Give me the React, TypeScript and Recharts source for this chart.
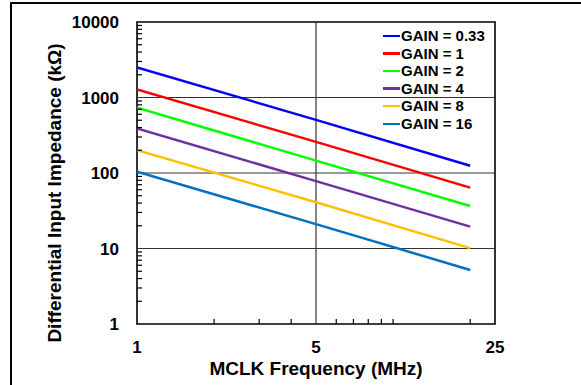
import React from 'react';
import { LineChart, Line, XAxis, YAxis, ReferenceLine, ReferenceArea, Legend, Label } from 'recharts';

// ---- data ----
const frequencies = [1, 5, 20];
const gain033 = [2500, 505, 125];
const gain1 = [1280, 258, 64];
const gain2 = [730, 146, 36.5];
const gain4 = [390, 78, 19.5];
const gain8 = [200, 41, 10.1];
const gain16 = [104, 21, 5.2];

const seriesNames = ['GAIN = 0.33', 'GAIN = 1', 'GAIN = 2', 'GAIN = 4', 'GAIN = 8', 'GAIN = 16'];
const seriesColors = ['#0000FF', '#FF0000', '#00FF00', '#7030A0', '#FFC000', '#0070C0'];
const seriesValues = [gain033, gain1, gain2, gain4, gain8, gain16];

const xTickValues = [1, 2, 3, 4, 5, 6, 7, 8, 9, 10, 20, 25];
const xLabelValues = [1, 5, 25];
const yTickValues = [
  1, 2, 3, 4, 5, 6, 7, 8, 9,
  10, 20, 30, 40, 50, 60, 70, 80, 90,
  100, 200, 300, 400, 500, 600, 700, 800, 900,
  1000, 2000, 3000, 4000, 5000, 6000, 7000, 8000, 9000,
  10000,
];
const yLabelValues = [1, 10, 100, 1000, 10000];
const yGridValues = [10, 100, 1000];
const xGridValues = [5];

const xTitle = 'MCLK Frequency (MHz)';
const yTitle = 'Differential Input Impedance (kΩ)';

const data = frequencies.map((f, i) => {
  const row: Record<string, number> = { f };
  seriesValues.forEach((vals, s) => {
    row['s' + s] = vals[i];
  });
  return row;
});

const FONT = "Arial, 'Liberation Sans', Helvetica, sans-serif";

const XTick = (props: any) => {
  const { x, y, payload } = props;
  const v = payload.value;
  const isLabel = xLabelValues.includes(v);
  return (
    <g>
      {!isLabel && <line x1={x} x2={x} y1={y} y2={y - 5} stroke="#000" strokeWidth={1.2} />}
      {isLabel && (
        <text x={x} y={y + 29} textAnchor="middle" fontFamily={FONT} fontWeight="bold" fontSize={17} fill="#000">
          {v}
        </text>
      )}
    </g>
  );
};

const YTick = (props: any) => {
  const { x, y, payload } = props;
  const v = payload.value;
  const isLabel = yLabelValues.includes(v);
  return (
    <g>
      {!isLabel && <line x1={x} x2={x + 5} y1={y} y2={y} stroke="#000" strokeWidth={1.2} />}
      {isLabel && (
        <text x={x - 18} y={y + 6} textAnchor="end" fontFamily={FONT} fontWeight="bold" fontSize={17} fill="#000">
          {v}
        </text>
      )}
    </g>
  );
};

const LegendContent = () => {
  return (
    <div style={{ fontFamily: FONT, fontWeight: 'bold', fontSize: 15, color: '#000' }}>
      {seriesNames.map((name, i) => (
        <div key={name} style={{ display: 'flex', alignItems: 'center', height: 17.6, lineHeight: '17.6px', whiteSpace: 'nowrap' }}>
          <span style={{ display: 'inline-block', width: 17, height: 2.5, background: seriesColors[i], marginRight: 1 }} />
          <span>{name}</span>
        </div>
      ))}
    </div>
  );
};

export default function App() {
  return (
    <div style={{ position: 'absolute', left: 0, top: 0, width: 581, height: 385, background: '#fff' }}>
      <div
        style={{
          position: 'absolute',
          left: 10,
          top: 2,
          width: 571,
          height: 383,
          borderTop: '2px solid #000',
          borderLeft: '2px solid #000',
          boxSizing: 'border-box',
        }}
      />
      <LineChart
        width={581}
        height={385}
        data={data}
        margin={{ top: 22, right: 86, bottom: 31, left: 77 }}
        style={{ position: 'absolute', left: 0, top: 0 }}
      >
        <XAxis
          dataKey="f"
          type="number"
          scale="log"
          domain={[1, 25]}
          allowDataOverflow
          ticks={xTickValues}
          interval={0}
          tick={<XTick />}
          tickLine={false}
          tickSize={0}
          tickMargin={0}
          axisLine={false}
          height={30}
        >
          <Label
            content={() => (
              <text x={316} y={368} textAnchor="middle" dominantBaseline="central" fontFamily={FONT} fontWeight="bold" fontSize={19} fill="#000">
                {xTitle}
              </text>
            )}
          />
        </XAxis>
        <YAxis
          type="number"
          scale="log"
          domain={[1, 10000]}
          allowDataOverflow
          ticks={yTickValues}
          interval={0}
          tick={<YTick />}
          tickLine={false}
          tickSize={0}
          tickMargin={0}
          axisLine={false}
          width={60}
        >
          <Label
            content={() => (
              <text
                x={54}
                y={193}
                transform="rotate(-90 54 193)"
                textAnchor="middle"
                dominantBaseline="central"
                fontFamily={FONT}
                fontWeight="bold"
                fontSize={19}
                fill="#000"
              >
                {yTitle}
              </text>
            )}
          />
        </YAxis>
        {yGridValues.map((v) => (
          <ReferenceLine key={'y' + v} y={v} stroke="#333" strokeWidth={1.2} />
        ))}
        {xGridValues.map((v) => (
          <ReferenceLine key={'x' + v} x={v} stroke="#333" strokeWidth={1.2} />
        ))}
        {seriesNames.map((name, s) => (
          <Line
            key={name}
            type="linear"
            dataKey={'s' + s}
            name={name}
            stroke={seriesColors[s]}
            strokeWidth={2.5}
            dot={false}
            activeDot={false}
            isAnimationActive={false}
          />
        ))}
        <ReferenceArea x1={1} x2={25} y1={1} y2={10000} fill="none" fillOpacity={0} stroke="#000" strokeWidth={1.6} ifOverflow="visible" />
        <Legend
          layout="vertical"
          align="center"
          verticalAlign="middle"
          content={<LegendContent />}
          wrapperStyle={{ position: 'absolute', left: 383, top: 27, width: 120, height: 110 }}
        />
      </LineChart>
    </div>
  );
}
